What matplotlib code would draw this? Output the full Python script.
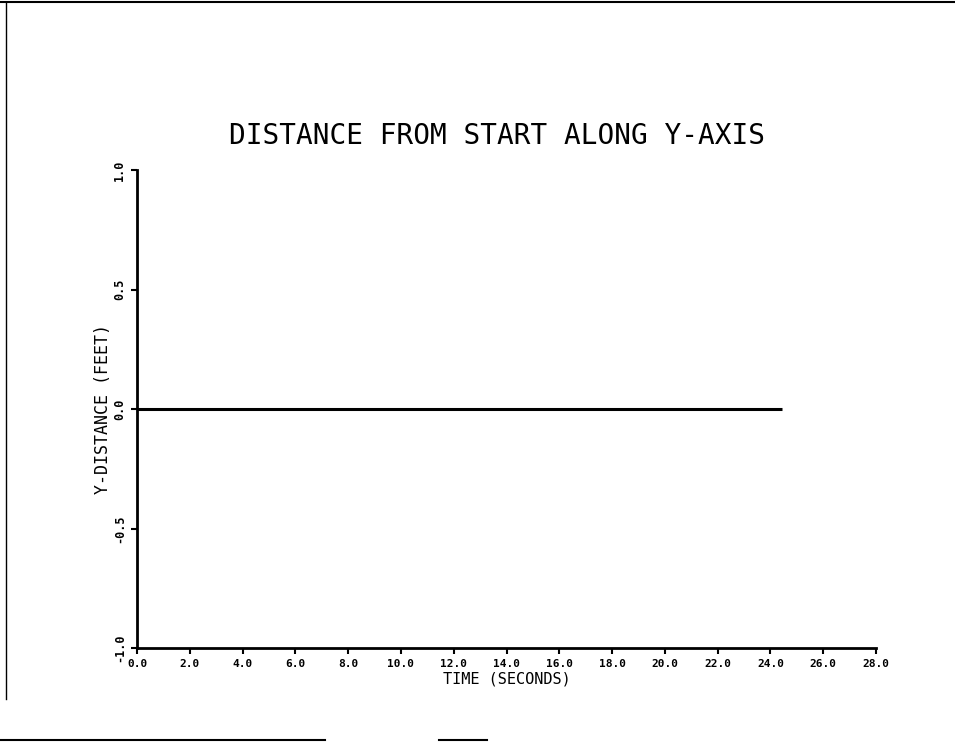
import numpy as np
import matplotlib
matplotlib.use('Agg')
import matplotlib.pyplot as plt
from matplotlib.lines import Line2D

# data: y-distance stays at zero for the whole run
time_s = [0.0, 24.45]
y_dist = [0.0, 0.0]

xticks = np.arange(0, 29, 2)
yticks = [-1.0, -0.5, 0.0, 0.5, 1.0]

plt.rcParams['font.family'] = 'DejaVu Sans Mono'

fig = plt.figure(figsize=(9.55, 7.44), dpi=100)
ax = fig.add_axes([0.1435, 0.129, 0.7738, 0.6425])

ax.plot(time_s, y_dist, color='black', lw=2.2, solid_capstyle='butt')

ax.set_xlim(0, 28)
ax.set_ylim(-1, 1)
ax.set_xticks(xticks)
ax.set_xticklabels(['%.1f' % v for v in xticks], fontsize=8, fontweight='bold')
ax.set_yticks(yticks)
ax.set_yticklabels(['%.1f' % v for v in yticks], fontsize=8.5, fontweight='bold',
                   rotation=90, va='center')
ax.tick_params(direction='out', length=4, width=1.5, pad=4)

for s in ['top', 'right']:
    ax.spines[s].set_visible(False)
for s in ['left', 'bottom']:
    ax.spines[s].set_linewidth(2)

ax.set_title('DISTANCE FROM START ALONG Y-AXIS', fontsize=20, pad=19, x=0.487)
ax.set_xlabel('TIME (SECONDS)', fontsize=11, labelpad=2)
ax.set_ylabel('Y-DISTANCE (FEET)', fontsize=12, labelpad=1)

# scan borders of the original page
fig.add_artist(Line2D([0.0, 1.0], [0.997, 0.997], color='black', lw=1.5, transform=fig.transFigure))
fig.add_artist(Line2D([0.006, 0.006], [0.06, 0.997], color='black', lw=1, transform=fig.transFigure))
fig.add_artist(Line2D([0.0, 0.34], [0.006, 0.006], color='black', lw=1.5, transform=fig.transFigure))
fig.add_artist(Line2D([0.46, 0.51], [0.006, 0.006], color='black', lw=1.5, transform=fig.transFigure))

fig.savefig('out.png', dpi=100)
